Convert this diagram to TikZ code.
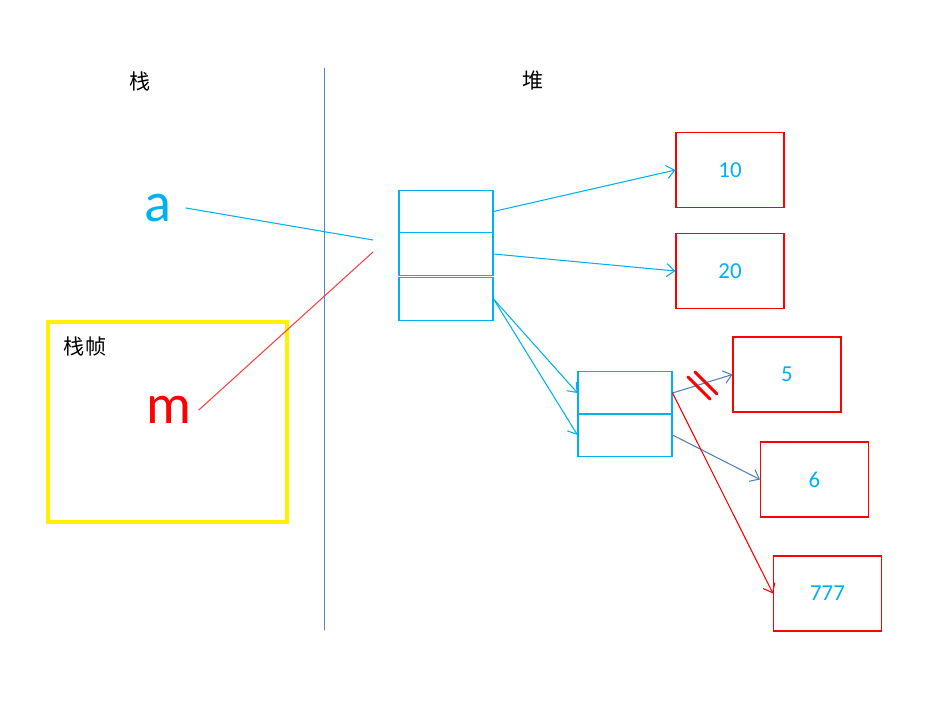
\documentclass[tikz,border=0pt]{standalone}
\usepackage{fontspec}
\setmainfont{Carlito}
\newfontfamily\cjk{Noto Sans CJK SC}
\usetikzlibrary{arrows.meta}
\definecolor{heapcyan}{RGB}{0,176,240}
\definecolor{linkblue}{RGB}{79,129,189}
\definecolor{rulerblue}{RGB}{80,135,205}

\begin{document}
\begin{tikzpicture}[>={Straight Barb[length=1.6mm,width=2.6mm]},line cap=round,
  cell/.style={draw=heapcyan,line width=0.6pt,minimum width=1.88cm,minimum height=0.85cm,inner sep=0pt},
  val/.style={draw=red,line width=0.6pt,minimum width=2.16cm,minimum height=1.5cm,inner sep=0pt,text=heapcyan,font=\fontsize{13}{15}\selectfont},
  ref/.style={heapcyan,line width=0.6pt},
  var/.style={inner sep=0pt,font=\fontsize{32}{36}\selectfont},
  tag/.style={font=\cjk\fontsize{12}{14}\selectfont}]
\useasboundingbox (0,0) rectangle (18.88,14.18);
\draw[rulerblue,line width=0.5pt] (6.48,12.82) -- (6.48,1.58);
\node[tag] (stack) at (2.8,12.56) {栈};
\node[tag] (heap) at (10.66,12.56) {堆};
\draw[yellow,line width=2.3pt] (0.96,7.74) rectangle (5.74,3.74);
\node[tag] (frame) at (1.7,7.24) {栈帧};
\node[var,text=heapcyan] (a) at (3.16,10.02) {a};
\node[var,text=red] (m) at (3.38,5.98) {m};
\coordinate (pa) at (7.46,9.38);
\coordinate (pm) at (7.46,9.14);
\node[cell] (c1) at (8.92,9.95) {};
\node[cell] (c2) at (8.92,9.10) {};
\node[cell] (c3) at (8.92,8.20) {};
\node[cell] (d1) at (12.50,6.32) {};
\node[cell] (d2) at (12.50,5.48) {};
\node[val] (v10) at (14.60,10.78) {10};
\node[val] (v20) at (14.60,8.76) {20};
\node[val] (v5) at (15.74,6.69) {5};
\node[val] (v6) at (16.29,4.59) {6};
\node[val] (v777) at (16.55,2.31) {777};
\draw[ref] ([xshift=0.28cm]a.east) -- (pa);
\draw[red!75,line width=0.6pt] ([xshift=0.14cm]m.east) -- (pm);
\draw[ref,->] (c1.east) -- (v10.west);
\draw[ref,->] (c2.east) -- (v20.west);
\draw[ref,->] (c3.east) -- (d1.west);
\draw[ref,->] (c3.east) -- (d2.west);
\draw[linkblue,line width=0.6pt,->] (d1.east) -- (v5.west);
\draw[linkblue,line width=0.6pt,->] (d2.east) -- (v6.west);
\draw[red,line width=0.6pt,->] (d1.east) -- (v777.west);
\draw[red,line width=1.7pt] (13.76,6.64) -- (14.20,6.20);
\draw[red,line width=1.7pt] (13.90,6.74) -- (14.34,6.30);
\end{tikzpicture}
\end{document}
